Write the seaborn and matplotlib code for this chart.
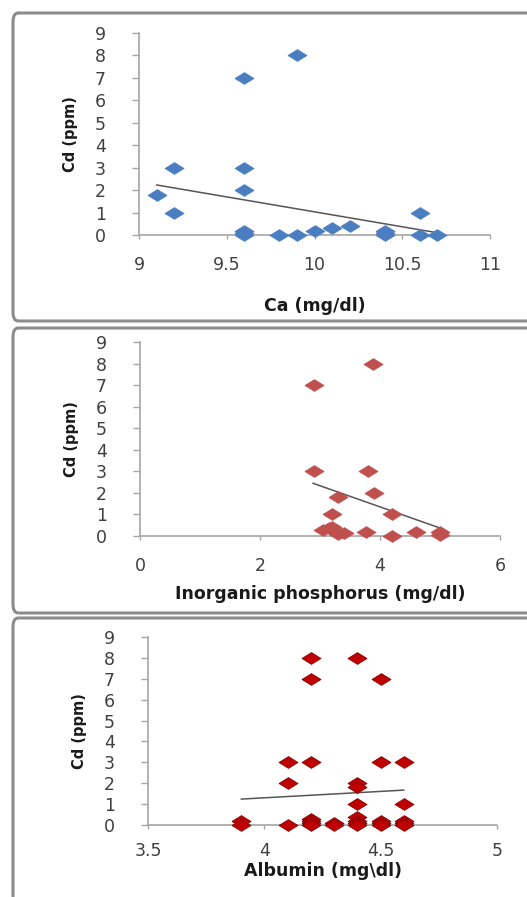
import matplotlib.pyplot as plt
import seaborn as sns
from matplotlib.patches import FancyBboxPatch

# Panel 1: Ca vs Cd
ca = [9.1, 9.2, 9.2, 9.6, 9.6, 9.6, 9.6, 9.6, 9.6, 9.8, 9.9, 9.9, 10.0, 10.1, 10.2,
      10.4, 10.4, 10.4, 10.6, 10.6, 10.7]
ca_cd = [1.8, 3, 1, 7, 3, 2, 0.2, 0.1, 0, 0, 8, 0, 0.2, 0.3, 0.4,
         0.2, 0.1, 0, 1, 0, 0]
ca_trend_x = [9.1, 10.7]
ca_trend_y = [2.23, 0.1]

# Panel 2: inorganic phosphorus vs Cd
phos = [2.9, 2.9, 3.88, 3.8, 3.9, 3.3, 3.2, 3.05, 3.15, 3.2, 3.3, 3.4, 3.3, 3.77,
        4.2, 4.2, 4.6, 5.0, 5.0]
phos_cd = [7, 3, 8, 3, 2, 1.8, 1, 0.3, 0.35, 0.4, 0.2, 0.15, 0.1, 0.2,
           1, 0, 0.2, 0.2, 0.05]
phos_trend_x = [2.88, 5.0]
phos_trend_y = [2.45, 0.37]

# Panel 3: albumin vs Cd
alb = [3.9, 3.9,
       4.1, 4.1, 4.1,
       4.2, 4.2, 4.2, 4.2, 4.2, 4.2, 4.2,
       4.3, 4.3,
       4.4, 4.4, 4.4, 4.4, 4.4, 4.4, 4.4, 4.4,
       4.5, 4.5, 4.5, 4.5, 4.5,
       4.6, 4.6, 4.6, 4.6, 4.6]
alb_cd = [0.2, 0,
          3, 2, 0,
          8, 7, 3, 0.3, 0.2, 0.1, 0,
          0.1, 0,
          8, 2, 1.8, 1, 0.4, 0.2, 0.1, 0,
          7, 3, 0.2, 0.1, 0,
          3, 1, 0.2, 0.1, 0]
alb_trend_x = [3.9, 4.6]
alb_trend_y = [1.24, 1.67]

y_ticks = list(range(0, 10))

sns.set_theme(style="white")
plt.rcParams['font.family'] = ['DejaVu Sans']

fig = plt.figure(figsize=(5.27, 8.97), dpi=100)
W, H = 527, 897

def fig_rect(x0, y0, x1, y1):
    return [x0 / W, 1 - y1 / H, (x1 - x0) / W, (y1 - y0) / H]

# gray panel frames
for top, bottom in [(13, 321), (328, 613), (618, 905)]:
    r = fig_rect(13, top, 545, bottom)
    fig.patches.append(FancyBboxPatch((r[0], r[1]), r[2], r[3],
                                      boxstyle="round,pad=0,rounding_size=0.01",
                                      transform=fig.transFigure, fill=False,
                                      edgecolor='#8c8c8c', lw=2.2, zorder=0))

diamond = [(-1, 0), (0, 0.62), (1, 0), (0, -0.62), (-1, 0)]

panels = [
    (fig_rect(139, 33, 490, 235), ca, ca_cd, ca_trend_x, ca_trend_y, (9, 11),
     [9, 9.5, 10, 10.5, 11], ['9', '9.5', '10', '10.5', '11'], 'Ca (mg/dl)',
     '#4a7ec1', '#4a7ec1', 12, 17),
    (fig_rect(140, 342, 500, 536), phos, phos_cd, phos_trend_x, phos_trend_y, (0, 6),
     [0, 2, 4, 6], ['0', '2', '4', '6'], 'Inorganic phosphorus (mg/dl)',
     '#c0504d', '#c0504d', 12, 7),
    (fig_rect(148, 637, 497, 825), alb, alb_cd, alb_trend_x, alb_trend_y, (3.5, 5),
     [3.5, 4, 4.5, 5], ['3.5', '4', '4.5', '5'], 'Albumin (mg\\dl)',
     '#c00000', '#7a0000', 9, 2),
]

for rect, xs, ys, tx, ty, xlim, xt, xtl, xlabel, fc, ec, xpad, lpad in panels:
    ax = fig.add_axes(rect)
    ax.patch.set_alpha(0)
    sns.lineplot(x=tx, y=ty, ax=ax, color='#555555', lw=1.1, zorder=3)
    sns.scatterplot(x=xs, y=ys, ax=ax, marker=diamond, s=190, color=fc,
                    edgecolor=ec, linewidth=0.5, clip_on=False, zorder=4)
    ax.set_xlim(*xlim)
    ax.set_ylim(0, 9)
    ax.set_xticks(xt)
    ax.set_xticklabels(xtl)
    ax.set_yticks(y_ticks)
    for s in ['top', 'right']:
        ax.spines[s].set_visible(False)
    for s in ['left', 'bottom']:
        ax.spines[s].set_color('#a6a6a6')
        ax.spines[s].set_linewidth(1.2)
    ax.tick_params(axis='y', direction='out', length=5, width=1, color='#a6a6a6',
                   pad=19, labelsize=12.5, labelcolor='#404040', left=True)
    ax.tick_params(axis='x', direction='out', length=3, width=1, color='#a6a6a6',
                   pad=xpad, labelsize=12.5, labelcolor='#404040', bottom=True)
    ax.set_xlabel(xlabel, fontsize=12.5, fontweight='bold', color='#1a1a1a', labelpad=lpad)
    ax.set_ylabel('Cd (ppm)', fontsize=10.5, fontweight='bold', color='#1a1a1a', labelpad=12)

fig.savefig('out.png', dpi=100)
